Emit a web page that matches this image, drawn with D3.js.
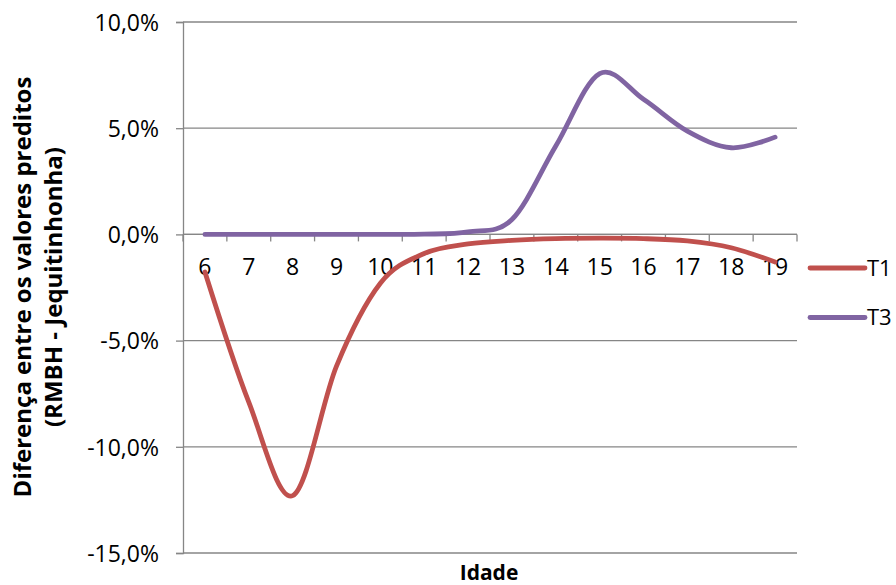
<!DOCTYPE html>
<html>
<head>
<meta charset="utf-8">
<script src="https://cdn.jsdelivr.net/npm/d3@7"></script>
<style>
  html, body { margin: 0; padding: 0; background: #fff; }
  svg { display: block; font-family: "Open Sans", sans-serif; }
</style>
</head>
<body>
<svg id="chart" width="896" height="585"></svg>
<script>
// Age categories (years)
const ages = ["6","7","8","9","10","11","12","13","14","15","16","17","18","19"];
// Difference between predicted values (RMBH - Jequitinhonha), in %
const t1 = [-1.77, -7.9, -12.3, -6.2, -2.3, -0.9, -0.45, -0.28, -0.2, -0.18, -0.2, -0.31, -0.63, -1.3];
const t3 = [0, 0, 0, 0, 0, 0.01, 0.12, 0.7, 4.16, 7.57, 6.36, 4.86, 4.08, 4.58];
const yTicks = [10, 5, 0, -5, -10, -15];
const seriesNames = ["T1", "T3"];
const seriesColors = ["#C0504D", "#8064A2"];

const svg = d3.select("#chart");
const plotL = 183, plotR = 797, plotT = 22, plotB = 553;

const x = d3.scaleBand().domain(ages).range([plotL, plotR]).padding(0);
const y = d3.scaleLinear().domain([-15, 10]).range([plotB, plotT]);
const fmt = v => d3.format(".1f")(v).replace(".", ",").replace("−", "-") + "%";

const grid = "#868686";

// Horizontal gridlines
svg.append("g")
  .selectAll("line")
  .data(yTicks)
  .join("line")
  .attr("x1", plotL).attr("x2", plotR)
  .attr("y1", d => y(d)).attr("y2", d => y(d))
  .attr("stroke", grid).attr("stroke-width", 1.3);

// Y axis
const yAxis = d3.axisLeft(y).tickValues(yTicks).tickSize(7).tickPadding(17).tickFormat(fmt);
const gy = svg.append("g").attr("transform", `translate(${plotL},0)`).call(yAxis);
gy.select(".domain").attr("stroke", grid).attr("stroke-width", 1.3);
gy.selectAll(".tick line").attr("stroke", grid).attr("stroke-width", 1.3);
gy.selectAll(".tick text")
  .attr("fill", "#000").attr("font-size", 23)
  .attr("font-family", "Open Sans, sans-serif")
  .attr("dy", "0.36em");

// X axis on the zero line; ticks at category boundaries
const bounds = ages.map(a => x(a)).concat([plotR]);
const gx = svg.append("g");
gx.append("line")
  .attr("x1", plotL).attr("x2", plotR)
  .attr("y1", y(0)).attr("y2", y(0))
  .attr("stroke", grid).attr("stroke-width", 1.3);
gx.selectAll("line.tk")
  .data(bounds)
  .join("line")
  .attr("class", "tk")
  .attr("x1", d => d).attr("x2", d => d)
  .attr("y1", y(0)).attr("y2", y(0) + 7)
  .attr("stroke", grid).attr("stroke-width", 1.3);
gx.selectAll("text")
  .data(ages)
  .join("text")
  .attr("x", d => x(d) + x.bandwidth() / 2)
  .attr("y", y(0) + 41)
  .attr("text-anchor", "middle")
  .attr("font-size", 23)
  .attr("fill", "#000")
  .text(d => d);

// Series lines, smoothed
const line = d3.line()
  .x((d, i) => x(ages[i]) + x.bandwidth() / 2)
  .y(d => y(d))
  .curve(d3.curveCatmullRom.alpha(0));

[t1, t3].forEach((vals, k) => {
  svg.append("path")
    .datum(vals)
    .attr("d", line)
    .attr("fill", "none")
    .attr("stroke", seriesColors[k])
    .attr("stroke-width", 4.8)
    .attr("stroke-linecap", "round")
    .attr("stroke-linejoin", "round");
});

// Legend
const legend = svg.append("g");
seriesNames.forEach((name, k) => {
  const ly = 268 + k * 49.5;
  legend.append("line")
    .attr("x1", 810).attr("x2", 865)
    .attr("y1", ly).attr("y2", ly)
    .attr("stroke", seriesColors[k]).attr("stroke-width", 4.8)
    .attr("stroke-linecap", "round");
  legend.append("text")
    .attr("x", 867).attr("y", ly)
    .attr("dy", "0.36em")
    .attr("font-size", 22)
    .attr("fill", "#000")
    .text(name);
});

// Axis titles
svg.append("text")
  .attr("x", 489).attr("y", 580)
  .attr("text-anchor", "middle")
  .attr("font-size", 21).attr("font-weight", "bold")
  .attr("fill", "#000")
  .text("Idade");

const yTitle = svg.append("text")
  .attr("transform", "translate(0,287) rotate(-90)")
  .attr("text-anchor", "middle")
  .attr("font-size", 24).attr("font-weight", "bold")
  .attr("fill", "#000");
yTitle.append("tspan").attr("x", 0).attr("y", 31).text("Diferença entre os valores preditos");
yTitle.append("tspan").attr("x", 0).attr("y", 62).text("(RMBH - Jequitinhonha)");
</script>
</body>
</html>
